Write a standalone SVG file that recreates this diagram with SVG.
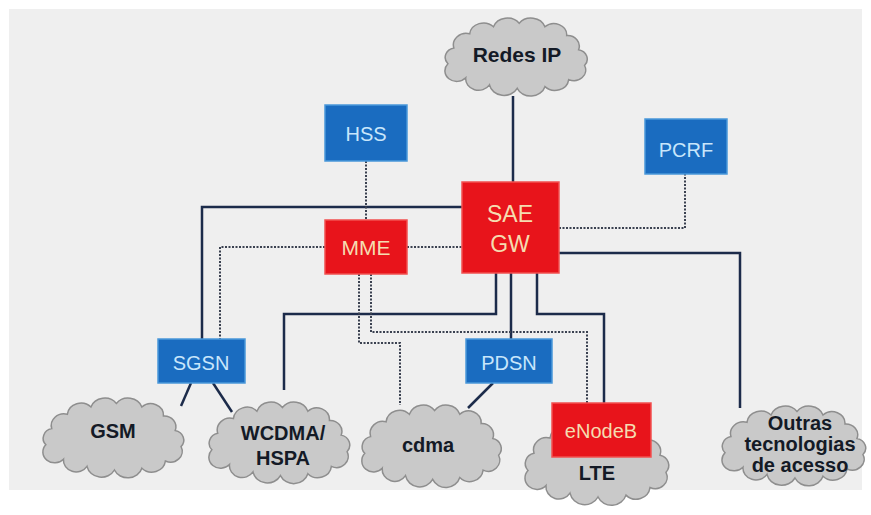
<svg xmlns="http://www.w3.org/2000/svg" xmlns:xlink="http://www.w3.org/1999/xlink" width="871" height="515" viewBox="0 0 871 515">
<style>
.cloud{fill:#c9c9c9;stroke:#8e8e8e;stroke-width:1.5;vector-effect:non-scaling-stroke}
.ctext{font-family:"Liberation Sans",Arial,sans-serif;font-weight:bold;font-size:20px;fill:#141a26;text-anchor:middle}
.blue{fill:#1a6cc0;stroke:#4a98da;stroke-width:1.5}
.red{fill:#e8141b;stroke:#f25050;stroke-width:1.5}
.btext{font-family:"Liberation Sans",Arial,sans-serif;font-size:20px;fill:#c8e6fb;text-anchor:middle}
.rtext{font-family:"Liberation Sans",Arial,sans-serif;font-size:23px;fill:#f5dcb0;text-anchor:middle}
.solid{fill:none;stroke:#1c2b4a;stroke-width:2.5}
.dot{fill:none;stroke:#3a4150;stroke-width:2;stroke-dasharray:2 1.5}
</style>
<defs>
<path id="cloudShape" class="cloud" d="M14 34 A13 13 0 0 1 30 18 A14 14 0 0 1 54 10 A15 15 0 0 1 80 6 A15 15 0 0 1 106 10 A13 13 0 0 1 128 20 A12 12 0 0 1 140 36 A11 11 0 0 1 146 54 A12 12 0 0 1 130 70 A14 14 0 0 1 106 78 A15 15 0 0 1 78 80 A15 15 0 0 1 50 76 A13 13 0 0 1 26 68 A12 12 0 0 1 8 52 A11 11 0 0 1 14 34 Z"/>
</defs>
<rect x="0" y="0" width="871" height="515" fill="#ffffff"/>
<rect x="9" y="9" width="853" height="481" fill="#efefef"/>

<g id="redes-ip">
<use xlink:href="#cloudShape" transform="translate(440,18) scale(0.99,0.88)"/>
<text class="ctext" x="517" y="62" style="font-size:21px">Redes IP</text>
</g>
<g id="gsm">
<use xlink:href="#cloudShape" transform="translate(38,398) scale(0.98,0.9)"/>
<text class="ctext" x="113" y="438">GSM</text>
</g>
<g id="wcdma">
<use xlink:href="#cloudShape" transform="translate(204,402) scale(0.98,0.92)"/>
<text class="ctext" x="283" y="440">WCDMA/</text>
<text class="ctext" x="283" y="465">HSPA</text>
</g>
<g id="cdma">
<use xlink:href="#cloudShape" transform="translate(357,405) scale(0.97,0.93)"/>
<text class="ctext" x="428" y="452">cdma</text>
</g>
<g id="lte">
<use xlink:href="#cloudShape" transform="translate(520,421) scale(1.0,0.95)"/>
<text class="ctext" x="597" y="480">LTE</text>
</g>
<g id="outras">
<use xlink:href="#cloudShape" transform="translate(717,406) scale(1.0,0.9)"/>
<text class="ctext" x="800" y="430">Outras</text>
<text class="ctext" x="800" y="451">tecnologias</text>
<text class="ctext" x="800" y="472">de acesso</text>
</g>

<g id="connectors">
<path class="solid" d="M513 96 V183"/>
<path class="solid" d="M462 207 H202 V339"/>
<path class="solid" d="M496 273 V314 H284 V390"/>
<path class="solid" d="M511 273 V339"/>
<path class="solid" d="M537 273 V314 H604 V403"/>
<path class="solid" d="M559 253 H740 V408"/>
<path class="solid" d="M191 383 L181 406"/>
<path class="solid" d="M213 383 L232 412"/>
<path class="solid" d="M493 383 L468 408"/>
<path class="dot" d="M366 161 V220"/>
<path class="dot" d="M325 247 H220 V339"/>
<path class="dot" d="M407 247 H462"/>
<path class="dot" d="M559 228 H685 V174"/>
<path class="dot" d="M359 274 V343 H400 V405"/>
<path class="dot" d="M371 274 V332 H587 V403"/>
</g>

<g id="hss">
<rect class="blue" x="325" y="105" width="82" height="56"/>
<text class="btext" x="366" y="141">HSS</text>
</g>
<g id="pcrf">
<rect class="blue" x="645" y="119" width="82" height="55"/>
<text class="btext" x="686" y="157">PCRF</text>
</g>
<g id="sae-gw">
<rect class="red" x="462" y="182" width="97" height="91"/>
<text class="rtext" x="510" y="222">SAE</text>
<text class="rtext" x="510" y="252">GW</text>
</g>
<g id="mme">
<rect class="red" x="325" y="220" width="82" height="54"/>
<text class="rtext" x="366" y="255" style="font-size:21px">MME</text>
</g>
<g id="sgsn">
<rect class="blue" x="158" y="339" width="87" height="44"/>
<text class="btext" x="201" y="370">SGSN</text>
</g>
<g id="pdsn">
<rect class="blue" x="466" y="339" width="86" height="44"/>
<text class="btext" x="509" y="370">PDSN</text>
</g>
<g id="enodeb">
<rect class="red" x="552" y="403" width="99" height="54"/>
<text class="rtext" x="601" y="438" style="font-size:20px">eNodeB</text>
</g>
</svg>
